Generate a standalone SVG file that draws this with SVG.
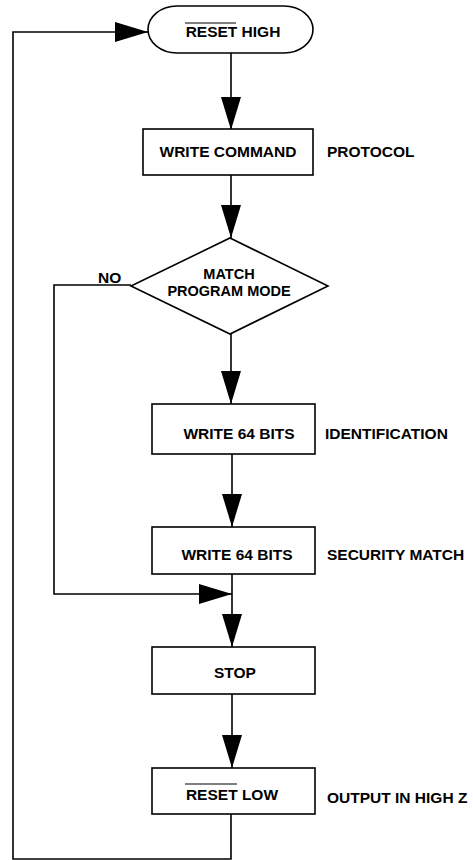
<svg xmlns="http://www.w3.org/2000/svg" width="473" height="860" viewBox="0 0 473 860">
  <style>
    .shape { fill: #fff; stroke: #000; stroke-width: 1.6; }
    .wire { fill: none; stroke: #000; stroke-width: 1.6; }
    .bar { stroke: #000; stroke-width: 1; }
    text { font-family: "Liberation Sans", Arial, Helvetica, sans-serif; font-size: 15.5px; font-weight: bold; fill: #000; }
    .c { text-anchor: middle; }
    .tight { font-size: 14.5px; }
  </style>
  <defs>
    <marker id="head" markerUnits="userSpaceOnUse" markerWidth="33" markerHeight="20" refX="33" refY="10" orient="auto">
      <path d="M0,0 L33,10 L0,20 Z" fill="#000"/>
    </marker>
  </defs>

  <g id="connectors">
    <!-- start to write command -->
    <line class="wire" x1="231" y1="53" x2="231" y2="130" marker-end="url(#head)"/>
    <!-- write command to decision -->
    <line class="wire" x1="231" y1="175" x2="231" y2="238" marker-end="url(#head)"/>
    <!-- decision to identification -->
    <line class="wire" x1="231" y1="334" x2="231" y2="404" marker-end="url(#head)"/>
    <!-- identification to security match -->
    <line class="wire" x1="232" y1="454" x2="232" y2="527" marker-end="url(#head)"/>
    <!-- security match down to stop -->
    <line class="wire" x1="232" y1="574" x2="232" y2="647" marker-end="url(#head)"/>
    <!-- NO branch bypass -->
    <polyline class="wire" points="131,285 54,285 54,594 232,594" marker-end="url(#head)"/>
    <!-- stop to reset low -->
    <line class="wire" x1="232" y1="694" x2="232" y2="768" marker-end="url(#head)"/>
    <!-- return loop to start -->
    <polyline class="wire" points="231,814 231,859 13,859 13,32 148,32" marker-end="url(#head)"/>
    <text x="98" y="283">NO</text>
  </g>

  <g id="reset-high">
    <rect class="shape" x="148" y="6" width="165" height="47" rx="29" ry="23.5"/>
    <line class="bar" x1="185" y1="23" x2="236" y2="23"/>
    <text x="233" y="37" class="c">RESET HIGH</text>
  </g>

  <g id="write-command">
    <rect class="shape" x="143" y="129" width="170" height="46"/>
    <text x="228" y="157" class="c">WRITE COMMAND</text>
    <text x="327" y="157">PROTOCOL</text>
  </g>

  <g id="match-program-mode">
    <polygon class="shape" points="230,238 328,286 230,334 131,286"/>
    <text x="229" y="279" class="c tight">MATCH</text>
    <text x="229" y="296" class="c tight">PROGRAM MODE</text>
  </g>

  <g id="write-identification">
    <rect class="shape" x="152" y="404" width="163" height="50"/>
    <text x="239" y="439" class="c">WRITE 64 BITS</text>
    <text x="325" y="439">IDENTIFICATION</text>
  </g>

  <g id="write-security">
    <rect class="shape" x="152" y="527" width="163" height="47"/>
    <text x="237" y="560" class="c">WRITE 64 BITS</text>
    <text x="327" y="560">SECURITY MATCH</text>
  </g>

  <g id="stop">
    <rect class="shape" x="152" y="647" width="163" height="47"/>
    <text x="235" y="678" class="c">STOP</text>
  </g>

  <g id="reset-low">
    <rect class="shape" x="152" y="768" width="163" height="46"/>
    <line class="bar" x1="185" y1="784" x2="237" y2="784"/>
    <text x="232" y="800" class="c">RESET LOW</text>
    <text x="327" y="803">OUTPUT IN HIGH Z</text>
  </g>
</svg>
